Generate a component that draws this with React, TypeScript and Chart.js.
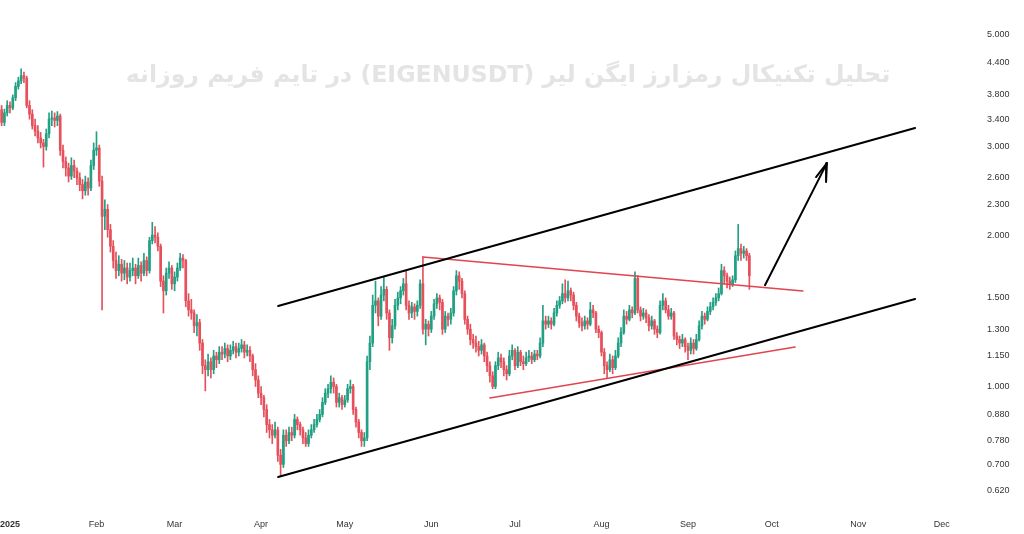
import React, { useEffect, useRef } from 'react';
import { Chart, registerables } from 'chart.js';

Chart.register(...registerables);

// Daily candles [open, high, low, close]; x = days since 2025-01-01
const dec2024 = [
  [3.55, 3.62, 3.30, 3.35], [3.35, 3.56, 3.30, 3.50], [3.50, 3.70, 3.45, 3.62],
];
const jan2025 = [
  [3.62, 3.68, 3.50, 3.58], [3.58, 3.80, 3.55, 3.75], [3.75, 4.02, 3.70, 3.95], [3.95, 4.12, 3.90, 4.05],
  [4.05, 4.28, 4.00, 4.15], [4.15, 4.22, 4.02, 4.10], [4.10, 4.14, 3.58, 3.62], [3.62, 3.70, 3.40, 3.48],
  [3.48, 3.55, 3.25, 3.30], [3.30, 3.40, 3.15, 3.22], [3.22, 3.30, 3.05, 3.12], [3.12, 3.20, 2.98, 3.05],
  [3.05, 3.10, 2.73, 3.00], [3.00, 3.25, 2.95, 3.18], [3.18, 3.50, 3.12, 3.40], [3.40, 3.53, 3.30, 3.42],
  [3.42, 3.50, 3.28, 3.38], [3.38, 3.52, 3.30, 3.45], [3.45, 3.48, 2.88, 2.95], [2.95, 3.02, 2.72, 2.80],
  [2.80, 2.86, 2.62, 2.72], [2.72, 2.78, 2.55, 2.62], [2.62, 2.85, 2.58, 2.75], [2.75, 2.82, 2.60, 2.68],
  [2.68, 2.72, 2.52, 2.60], [2.60, 2.66, 2.45, 2.52], [2.52, 2.58, 2.36, 2.45], [2.45, 2.62, 2.40, 2.55],
  [2.55, 2.60, 2.40, 2.48], [2.48, 2.82, 2.45, 2.75], [2.75, 3.05, 2.70, 2.95],
];
const feb2025 = [
  [2.95, 3.21, 2.88, 2.98], [2.98, 3.02, 2.50, 2.56], [2.56, 2.62, 1.42, 2.18], [2.18, 2.35, 2.05, 2.25],
  [2.25, 2.30, 1.98, 2.05], [2.05, 2.10, 1.85, 1.90], [1.90, 1.95, 1.72, 1.78], [1.78, 1.85, 1.64, 1.70],
  [1.70, 1.82, 1.66, 1.75], [1.75, 1.79, 1.62, 1.68], [1.68, 1.78, 1.63, 1.72], [1.72, 1.76, 1.60, 1.65],
  [1.65, 1.76, 1.62, 1.70], [1.70, 1.80, 1.66, 1.72], [1.72, 1.75, 1.60, 1.66], [1.66, 1.80, 1.64, 1.74],
  [1.74, 1.77, 1.62, 1.68], [1.68, 1.84, 1.66, 1.78], [1.78, 1.81, 1.66, 1.70], [1.70, 1.98, 1.68, 1.95],
  [1.95, 2.12, 1.92, 2.00], [2.00, 2.08, 1.93, 1.98], [1.98, 2.02, 1.86, 1.90], [1.90, 1.92, 1.58, 1.62],
  [1.62, 1.66, 1.40, 1.55], [1.55, 1.72, 1.52, 1.68], [1.68, 1.77, 1.64, 1.72], [1.72, 1.74, 1.56, 1.60],
];
const mar2025 = [
  [1.60, 1.69, 1.55, 1.65], [1.65, 1.76, 1.62, 1.72], [1.72, 1.84, 1.70, 1.80], [1.80, 1.83, 1.72, 1.78],
  [1.78, 1.79, 1.44, 1.48], [1.48, 1.53, 1.38, 1.42], [1.42, 1.49, 1.36, 1.40], [1.40, 1.42, 1.28, 1.32],
  [1.32, 1.39, 1.26, 1.34], [1.34, 1.36, 1.18, 1.22], [1.22, 1.24, 1.06, 1.10], [1.10, 1.13, 0.98, 1.08],
  [1.08, 1.16, 1.05, 1.12], [1.12, 1.14, 1.04, 1.08], [1.08, 1.18, 1.06, 1.15], [1.15, 1.17, 1.09, 1.13],
  [1.13, 1.20, 1.11, 1.17], [1.17, 1.20, 1.13, 1.16], [1.16, 1.22, 1.14, 1.19], [1.19, 1.21, 1.12, 1.15],
  [1.15, 1.21, 1.13, 1.18], [1.18, 1.23, 1.16, 1.20], [1.20, 1.22, 1.14, 1.17], [1.17, 1.22, 1.15, 1.19],
  [1.19, 1.24, 1.17, 1.21], [1.21, 1.23, 1.14, 1.17], [1.17, 1.21, 1.15, 1.18], [1.18, 1.20, 1.12, 1.15],
  [1.15, 1.16, 1.05, 1.08], [1.08, 1.11, 1.00, 1.03], [1.03, 1.05, 0.95, 0.97],
];
const apr2025 = [
  [0.97, 1.00, 0.92, 0.95], [0.95, 0.96, 0.87, 0.90], [0.90, 0.92, 0.81, 0.84], [0.84, 0.86, 0.79, 0.82],
  [0.82, 0.84, 0.77, 0.80], [0.80, 0.85, 0.79, 0.82], [0.82, 0.83, 0.71, 0.73], [0.73, 0.75, 0.665, 0.70],
  [0.70, 0.82, 0.69, 0.80], [0.80, 0.82, 0.76, 0.78], [0.78, 0.83, 0.77, 0.81], [0.81, 0.83, 0.78, 0.80],
  [0.80, 0.88, 0.79, 0.86], [0.86, 0.87, 0.82, 0.84], [0.84, 0.85, 0.80, 0.82], [0.82, 0.83, 0.77, 0.79],
  [0.79, 0.81, 0.76, 0.77], [0.77, 0.82, 0.76, 0.80], [0.80, 0.84, 0.79, 0.82], [0.82, 0.86, 0.81, 0.84],
  [0.84, 0.88, 0.83, 0.86], [0.86, 0.90, 0.85, 0.88], [0.88, 0.95, 0.87, 0.93], [0.93, 0.99, 0.92, 0.97],
  [0.97, 1.01, 0.95, 0.99], [0.99, 1.05, 0.97, 1.02], [1.02, 1.04, 0.97, 1.00], [1.00, 1.01, 0.91, 0.93],
  [0.93, 0.97, 0.91, 0.95], [0.95, 0.96, 0.90, 0.92],
];
const may2025 = [
  [0.92, 0.96, 0.91, 0.94], [0.94, 1.01, 0.93, 0.99], [0.99, 1.03, 0.97, 1.00], [1.00, 1.01, 0.88, 0.90],
  [0.90, 0.91, 0.83, 0.85], [0.85, 0.86, 0.79, 0.81], [0.81, 0.82, 0.76, 0.78], [0.78, 0.81, 0.76, 0.79],
  [0.79, 1.15, 0.78, 1.12], [1.12, 1.26, 1.08, 1.22], [1.22, 1.52, 1.20, 1.45], [1.45, 1.62, 1.40, 1.48],
  [1.48, 1.50, 1.32, 1.38], [1.38, 1.58, 1.36, 1.52], [1.52, 1.65, 1.48, 1.56], [1.56, 1.58, 1.36, 1.40],
  [1.40, 1.42, 1.18, 1.25], [1.25, 1.36, 1.22, 1.32], [1.32, 1.49, 1.30, 1.45], [1.45, 1.54, 1.42, 1.50],
  [1.50, 1.58, 1.46, 1.55], [1.55, 1.64, 1.52, 1.60], [1.60, 1.70, 1.42, 1.45], [1.45, 1.48, 1.36, 1.40],
  [1.40, 1.47, 1.37, 1.44], [1.44, 1.46, 1.36, 1.41], [1.41, 1.48, 1.38, 1.45], [1.45, 1.63, 1.43, 1.60],
  [1.60, 1.81, 1.27, 1.30], [1.30, 1.36, 1.21, 1.33], [1.33, 1.35, 1.26, 1.30],
];
const jun2025 = [
  [1.30, 1.41, 1.28, 1.38], [1.38, 1.49, 1.36, 1.46], [1.46, 1.53, 1.43, 1.50], [1.50, 1.52, 1.42, 1.47],
  [1.47, 1.49, 1.27, 1.30], [1.30, 1.41, 1.28, 1.38], [1.38, 1.40, 1.32, 1.36], [1.36, 1.43, 1.33, 1.40],
  [1.40, 1.58, 1.38, 1.55], [1.55, 1.70, 1.52, 1.66], [1.66, 1.69, 1.56, 1.62], [1.62, 1.64, 1.50, 1.53],
  [1.53, 1.55, 1.33, 1.36], [1.36, 1.38, 1.27, 1.30], [1.30, 1.33, 1.21, 1.24], [1.24, 1.27, 1.19, 1.22],
  [1.22, 1.26, 1.17, 1.20], [1.20, 1.23, 1.15, 1.18], [1.18, 1.24, 1.16, 1.21], [1.21, 1.22, 1.12, 1.15],
  [1.15, 1.17, 1.07, 1.10], [1.10, 1.12, 1.02, 1.05], [1.05, 1.07, 0.99, 1.00], [1.00, 1.12, 0.99, 1.10],
  [1.10, 1.17, 1.08, 1.14], [1.14, 1.16, 1.09, 1.12], [1.12, 1.14, 1.05, 1.08], [1.08, 1.10, 1.03, 1.06],
  [1.06, 1.18, 1.05, 1.15], [1.15, 1.21, 1.13, 1.18],
];
const jul2025 = [
  [1.18, 1.19, 1.08, 1.10], [1.10, 1.20, 1.09, 1.17], [1.17, 1.18, 1.10, 1.12], [1.12, 1.15, 1.08, 1.11],
  [1.11, 1.17, 1.10, 1.14], [1.14, 1.18, 1.12, 1.15], [1.15, 1.17, 1.11, 1.13], [1.13, 1.18, 1.12, 1.16],
  [1.16, 1.18, 1.13, 1.15], [1.15, 1.25, 1.14, 1.22], [1.22, 1.45, 1.20, 1.35], [1.35, 1.38, 1.30, 1.33],
  [1.33, 1.38, 1.31, 1.35], [1.35, 1.37, 1.30, 1.33], [1.33, 1.43, 1.32, 1.40], [1.40, 1.48, 1.38, 1.45],
  [1.45, 1.51, 1.43, 1.48], [1.48, 1.60, 1.46, 1.53], [1.53, 1.63, 1.47, 1.50], [1.50, 1.62, 1.48, 1.55],
  [1.55, 1.57, 1.48, 1.52], [1.52, 1.54, 1.42, 1.45], [1.45, 1.47, 1.35, 1.38], [1.38, 1.40, 1.31, 1.34],
  [1.34, 1.37, 1.29, 1.32], [1.32, 1.38, 1.30, 1.35], [1.35, 1.37, 1.30, 1.33], [1.33, 1.47, 1.32, 1.42],
  [1.42, 1.45, 1.37, 1.40], [1.40, 1.41, 1.28, 1.30], [1.30, 1.32, 1.25, 1.28],
];
const aug2025 = [
  [1.28, 1.29, 1.15, 1.17], [1.17, 1.19, 1.06, 1.10], [1.10, 1.12, 1.04, 1.08], [1.08, 1.16, 1.07, 1.13],
  [1.13, 1.15, 1.06, 1.09], [1.09, 1.18, 1.08, 1.15], [1.15, 1.25, 1.14, 1.22], [1.22, 1.31, 1.20, 1.28],
  [1.28, 1.42, 1.27, 1.38], [1.38, 1.41, 1.33, 1.36], [1.36, 1.45, 1.35, 1.42], [1.42, 1.44, 1.37, 1.40],
  [1.40, 1.69, 1.39, 1.64], [1.64, 1.66, 1.40, 1.42], [1.42, 1.44, 1.35, 1.38], [1.38, 1.43, 1.36, 1.40],
  [1.40, 1.42, 1.34, 1.37], [1.37, 1.39, 1.29, 1.32], [1.32, 1.38, 1.30, 1.35], [1.35, 1.36, 1.27, 1.30],
  [1.30, 1.32, 1.25, 1.28], [1.28, 1.48, 1.27, 1.45], [1.45, 1.53, 1.42, 1.48], [1.48, 1.50, 1.40, 1.42],
  [1.42, 1.45, 1.36, 1.38], [1.38, 1.43, 1.36, 1.40], [1.40, 1.41, 1.24, 1.26], [1.26, 1.28, 1.21, 1.24],
  [1.24, 1.26, 1.19, 1.22], [1.22, 1.27, 1.20, 1.24], [1.24, 1.25, 1.17, 1.20],
];
const sep2025 = [
  [1.20, 1.22, 1.13, 1.18], [1.18, 1.25, 1.16, 1.22], [1.22, 1.24, 1.16, 1.19], [1.19, 1.27, 1.18, 1.24],
  [1.24, 1.35, 1.23, 1.32], [1.32, 1.41, 1.30, 1.38], [1.38, 1.40, 1.33, 1.36], [1.36, 1.44, 1.35, 1.41],
  [1.41, 1.47, 1.39, 1.44], [1.44, 1.50, 1.42, 1.47], [1.47, 1.53, 1.45, 1.50], [1.50, 1.57, 1.48, 1.53],
  [1.53, 1.75, 1.52, 1.70], [1.70, 1.73, 1.60, 1.66], [1.66, 1.68, 1.57, 1.62], [1.62, 1.65, 1.56, 1.60],
  [1.60, 1.66, 1.58, 1.63], [1.63, 1.86, 1.61, 1.82], [1.82, 2.10, 1.78, 1.88], [1.88, 1.92, 1.78, 1.84],
  [1.84, 1.90, 1.80, 1.86], [1.86, 1.88, 1.78, 1.82], [1.82, 1.84, 1.56, 1.66],
];
// first day (days since 2025-01-01) of each monthly block
const monthBlockStarts = [-3, 0, 31, 59, 90, 120, 151, 181, 212, 243];
const monthBlocks = [dec2024, jan2025, feb2025, mar2025, apr2025, may2025, jun2025, jul2025, aug2025, sep2025];

// x-axis ticks
const monthTickDays = [0, 31, 59, 90, 120, 151, 181, 212, 243, 273, 304, 334];
const monthTickLabels = ['2025', 'Feb', 'Mar', 'Apr', 'May', 'Jun', 'Jul', 'Aug', 'Sep', 'Oct', 'Nov', 'Dec'];
// y-axis ticks
const priceTicks = [0.62, 0.70, 0.78, 0.88, 1.0, 1.15, 1.3, 1.5, 2.0, 2.3, 2.6, 3.0, 3.4, 3.8, 4.4, 5.0];

// drawn trend lines: [day, price]
const channelUpper = [[96.1, 1.446], [324.4, 3.266]];
const channelLower = [[96.1, 0.661], [324.4, 1.493]];
const redUpper = [[148.0, 1.809], [284.2, 1.548]];
const redLower = [[172.0, 0.949], [281.4, 1.198]];
const arrowShaft = [[270.6, 1.59], [292.8, 2.78]];
const arrowHead = [[288.9, 2.609], [292.8, 2.78], [292.5, 2.55]];

const TITLE = 'تحلیل تکنیکال رمزارز ایگن لیر (EIGENUSDT) در تایم فریم روزانه';

const UP = '#22a084';
const DOWN = '#e6505b';

const titlePlugin = {
  id: 'bgTitle',
  beforeDatasetsDraw(chart: any) {
    const ctx = chart.ctx as CanvasRenderingContext2D;
    ctx.save();
    ctx.direction = 'rtl';
    ctx.font = 'bold 24px "DejaVu Sans"';
    const w = ctx.measureText(TITLE).width;
    const size = (24 * 765) / w;
    ctx.font = `bold ${size}px "DejaVu Sans"`;
    ctx.fillStyle = '#e4e4e4';
    ctx.textAlign = 'center';
    ctx.textBaseline = 'middle';
    ctx.fillText(TITLE, 508, 76);
    ctx.restore();
  },
};

export default function App() {
  const ref = useRef<HTMLCanvasElement>(null);

  useEffect(() => {
    const candles: { d: number; o: number; h: number; l: number; c: number }[] = [];
    monthBlocks.forEach((rows, bi) => {
      rows.forEach((r, i) => {
        candles.push({ d: monthBlockStarts[bi] + i, o: r[0], h: r[1], l: r[2], c: r[3] });
      });
    });
    const colors = candles.map((k) => (k.c >= k.o ? UP : DOWN));
    const toPts = (arr: number[][]) => arr.map((p) => ({ x: p[0], y: p[1] }));
    const lineDs = (arr: number[][], color: string, width: number) => ({
      type: 'line' as const,
      data: toPts(arr),
      borderColor: color,
      borderWidth: width,
      pointRadius: 0,
      fill: false,
      tension: 0,
      order: 0,
      borderCapStyle: 'round' as const,
      borderJoinStyle: 'round' as const,
    });

    const chart = new Chart(ref.current!, {
      type: 'bar',
      data: {
        datasets: [
          lineDs(channelUpper, '#000000', 2),
          lineDs(channelLower, '#000000', 2),
          lineDs(redUpper, '#e2444f', 1.5),
          lineDs(redLower, '#e2444f', 1.5),
          lineDs(arrowShaft, '#000000', 2),
          lineDs(arrowHead, '#000000', 2),
          {
            type: 'bar',
            data: candles.map((k) => ({ x: k.d, y: [k.o, k.c] })),
            backgroundColor: colors,
            barThickness: 2,
            grouped: false,
            borderWidth: 0,
            order: 1,
          } as any,
          {
            type: 'bar',
            data: candles.map((k) => ({ x: k.d, y: [k.l, k.h] })),
            backgroundColor: colors,
            barThickness: 1,
            grouped: false,
            borderWidth: 0,
            order: 2,
          } as any,
        ],
      },
      options: {
        responsive: false,
        animation: false,
        layout: { padding: 0 },
        plugins: { legend: { display: false }, tooltip: { enabled: false } },
        scales: {
          x: {
            type: 'linear',
            min: -3.58,
            max: 344.8,
            offset: false,
            grid: { display: false, drawTicks: false, offset: false },
            border: { display: false },
            afterBuildTicks: (s: any) => {
              s.ticks = monthTickDays.map((v) => ({ value: v }));
            },
            afterFit: (s: any) => {
              s.height = 24;
              s.paddingLeft = 0;
              s.paddingRight = 0;
            },
            ticks: {
              autoSkip: false,
              maxRotation: 0,
              padding: 9,
              color: '#333333',
              font: (c: any) => ({ family: 'Liberation Sans', size: 9, weight: c.index === 0 ? 'bold' : 'normal' }),
              callback: (_v: any, i: number) => monthTickLabels[i],
            },
          },
          y: {
            type: 'logarithmic',
            position: 'right',
            min: 0.5681,
            max: 5.867,
            grid: { display: false, drawTicks: false },
            border: { display: false },
            afterBuildTicks: (s: any) => {
              s.ticks = priceTicks.map((v) => ({ value: v }));
            },
            afterFit: (s: any) => {
              s.width = 52;
              s.paddingTop = 0;
              s.paddingBottom = 0;
            },
            ticks: {
              autoSkip: false,
              padding: 15,
              color: '#333333',
              font: { family: 'Liberation Sans', size: 9 },
              callback: (v: any) => Number(v).toFixed(3),
            },
          },
        },
      } as any,
      plugins: [titlePlugin],
    });
    return () => chart.destroy();
  }, []);

  return (
    <div style={{ position: 'absolute', left: 0, top: 0, width: 1024, height: 534, background: '#ffffff' }}>
      <canvas ref={ref} width={1024} height={534} style={{ display: 'block' }} />
    </div>
  );
}
